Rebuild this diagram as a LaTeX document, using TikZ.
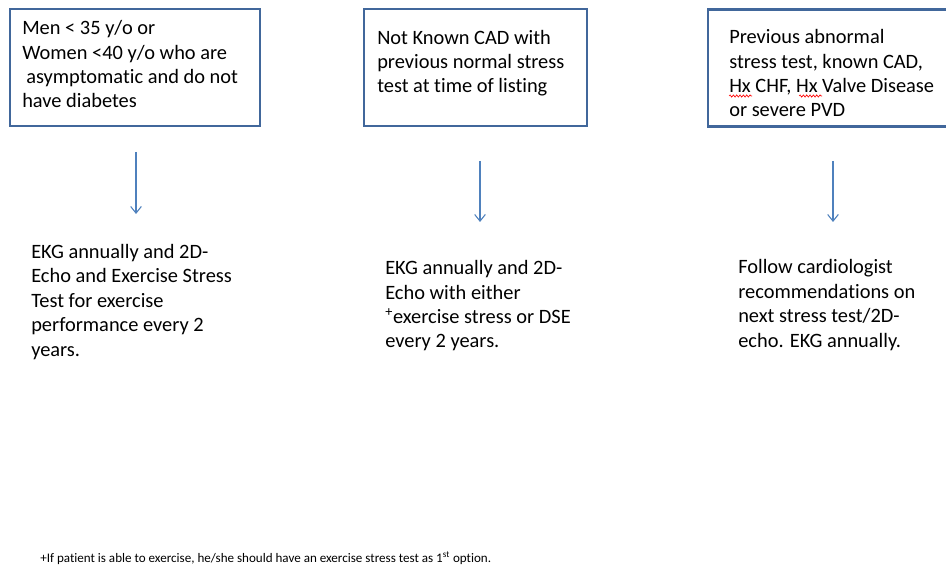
\documentclass[tikz,border=0pt]{standalone}
\usepackage{fontspec}
\setmainfont{Carlito}[Ligatures=NoCommon]
\usetikzlibrary{arrows.meta, decorations.pathmorphing}

\definecolor{boxblue}{RGB}{65,103,155}
\definecolor{arrowblue}{RGB}{79,129,189}

\begin{document}
\begin{tikzpicture}[x=0.75pt, y=-0.75pt,
  critbox/.style={draw=boxblue, line width=2.2pt, inner sep=0pt, minimum height=87.75pt},
  plaintext/.style={align=left, anchor=base west, inner sep=0pt, font=\fontsize{15.3}{18.3}\selectfont},
  flow/.style={arrowblue, line width=0.8pt, -{Straight Barb[length=5pt, width=8pt]}},
  spell/.style={red, line width=0.5pt, decorate, decoration={snake, amplitude=0.8pt, segment length=2.5pt}}]

\useasboundingbox (0,0) rectangle (946,570);

% Entry criteria (text nodes sit on the baseline of their last line)
\node [critbox, minimum width=187.5pt] (crit1) at ( 135, 67.5 ) {};
\node [plaintext] (crit1txt) at ( 22, 108 ) {Men < 35 y/o or\\Women <40 y/o who are\\\hspace{3pt}asymptomatic and do not\\have diabetes};

\node [critbox, minimum width=167.25pt] (crit2) at ( 475.5, 67.5 ) {};
\node [plaintext] (crit2txt) at ( 377, 93 ) {Not Known CAD with\\previous normal stress\\test at time of listing};

\node [critbox, minimum width=187.5pt] (crit3) at ( 833, 68 ) {};
\node [plaintext] (crit3txt) at ( 729, 117 ) {Previous abnormal\\stress test, known CAD,\\Hx CHF, Hx Valve Disease\\or severe PVD};
\draw [spell] ( 729, 96 ) -- ( 752, 96 );
\draw [spell] ( 799, 96 ) -- ( 822, 96 );

% Follow-up plans
\node [plaintext] (plan1) at ( 31, 356 ) {EKG annually and 2D-\\Echo and Exercise Stress\\Test for exercise\\performance every 2\\years.};
\node [plaintext] (plan2) at ( 385, 348 ) {EKG annually and 2D-\\Echo with either\\\textsuperscript{+}exercise stress or DSE\\every 2 years.};
\node [plaintext] (plan3) at ( 738, 347 ) {Follow cardiologist\\recommendations on\\next stress test/2D-\\echo. EKG annually.};

% Arrows
\coordinate (top1) at ( 136, 152 );
\coordinate (bot1) at ( 136, 214 );
\coordinate (top2) at ( 480, 161 );
\coordinate (bot2) at ( 480, 222 );
\coordinate (top3) at ( 833, 161 );
\coordinate (bot3) at ( 833, 222 );
\draw [flow] (top1) -- (bot1);
\draw [flow] (top2) -- (bot2);
\draw [flow] (top3) -- (bot3);

% Footnote
\node [anchor=base west, inner sep=0pt, font=\fontsize{9.8}{11}\selectfont] (note) at ( 40, 562 ) {+If patient is able to exercise, he/she should have an exercise stress test as 1\textsuperscript{st} option.};

\end{tikzpicture}
\end{document}
